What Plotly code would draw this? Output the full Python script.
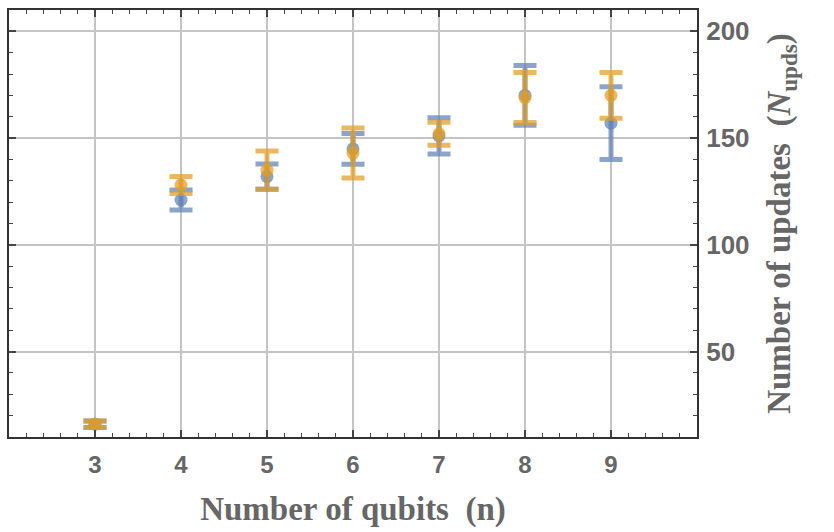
import plotly.graph_objects as go

qubits = [3, 4, 5, 6, 7, 8, 9]
blue_mean = [16, 121, 132, 145, 151, 170, 157]
blue_err = [1.5, 4.7, 5.9, 7.2, 8.5, 14, 17]
orange_mean = [16, 128, 135, 143, 152, 169, 170]
orange_err = [1.5, 4, 9, 11.7, 5.4, 11.7, 10.7]

x_ticks = [3, 4, 5, 6, 7, 8, 9]
y_ticks = [50, 100, 150, 200]

BLUE = "rgba(94,129,181,0.72)"
ORANGE = "rgba(225,156,36,0.72)"

fig = go.Figure()
for mean, err, col in [(blue_mean, blue_err, BLUE), (orange_mean, orange_err, ORANGE)]:
    fig.add_trace(go.Scatter(
        x=qubits, y=mean, mode="markers",
        marker=dict(color=col, size=13, line=dict(width=0)),
        error_y=dict(type="data", array=err, visible=True, color=col,
                     thickness=5, width=11.5),
        showlegend=False,
    ))

xtickfont = dict(family="Liberation Sans, Arial, sans-serif", size=24, color="#666666", weight="bold")
ytickfont = dict(family="Liberation Sans, Arial, sans-serif", size=26, color="#666666", weight="bold")
titlefont = dict(family="Liberation Serif, Times New Roman, serif", size=33, color="#666666", weight="bold")

fig.update_layout(
    width=834, height=532,
    margin=dict(l=7, r=137, t=10, b=95),
    paper_bgcolor="white", plot_bgcolor="white",
    xaxis=dict(
        range=[2.0, 10.0], tickvals=x_ticks, ticktext=[str(v) for v in x_ticks],
        showgrid=True, gridcolor="#c4c4c4", gridwidth=1.5,
        showline=True, linecolor="#333333", linewidth=2, mirror="allticks",
        ticks="inside", ticklen=7, tickwidth=1.5, tickcolor="#444444",
        minor=dict(dtick=0.2, tick0=2, ticks="inside", ticklen=4, tickwidth=1.2, tickcolor="#444444", showgrid=False),
        tickfont=xtickfont, ticklabelstandoff=5, zeroline=False,
        title=dict(text="Number of qubits  (n)", font=titlefont, standoff=20),
    ),
    yaxis=dict(
        range=[10, 210], tickvals=y_ticks, side="right",
        showgrid=True, gridcolor="#c4c4c4", gridwidth=1.5,
        showline=True, linecolor="#333333", linewidth=2, mirror="allticks",
        ticks="inside", ticklen=7, tickwidth=1.5, tickcolor="#444444",
        minor=dict(dtick=10, tick0=0, ticks="inside", ticklen=4, tickwidth=1.2, tickcolor="#444444", showgrid=False),
        tickfont=ytickfont, ticklabelstandoff=2, zeroline=False,
        title=dict(text="Number of updates  (<i>N</i><sub>upds</sub>)", font=titlefont, standoff=18),
    ),
)

fig.write_html("out.html")
